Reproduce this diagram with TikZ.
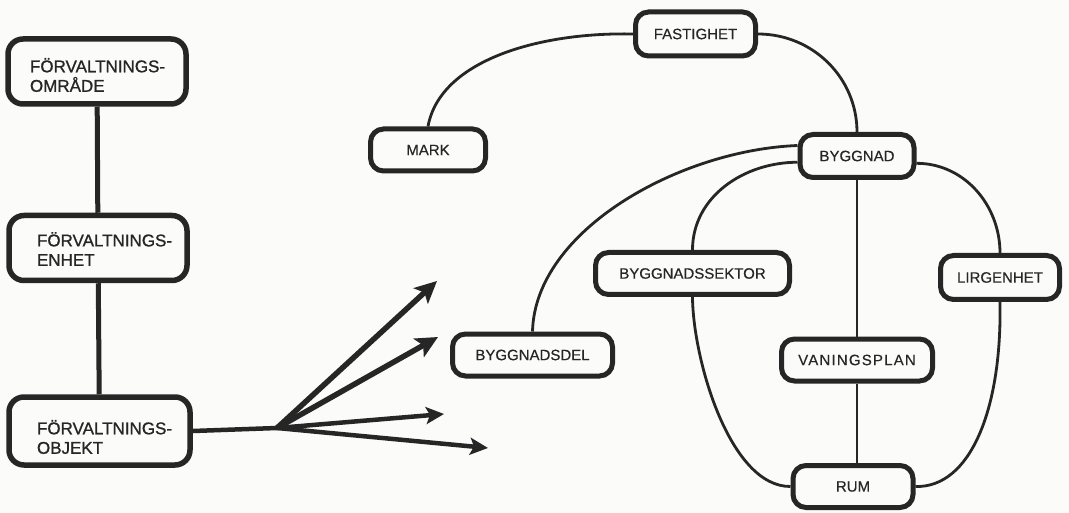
\documentclass[tikz,border=0pt]{standalone}
\usepackage{fontspec}
\setmainfont{Liberation Sans}
\usetikzlibrary{arrows.meta,calc}
\definecolor{ink}{RGB}{38,38,38}
\definecolor{paper}{RGB}{251,251,249}

\begin{document}
\begin{tikzpicture}[x=1pt,y=-1pt,
  adminbox/.style={draw=ink, line width=5.5pt, rounded corners=15pt,
    minimum width=178pt, minimum height=65pt, inner sep=0pt},
  admintext/.style={text width=140pt, inner sep=0pt, align=left, text=ink,
    font=\fontsize{17}{19.5}\selectfont\addfontfeature{FakeBold=1}},
  objbox/.style={draw=ink, line width=5pt, rounded corners=13pt,
    minimum height=42pt, inner sep=0pt, text=ink,
    font=\fontsize{15}{18}\selectfont\addfontfeature{FakeBold=0.4}},
  link/.style={draw=ink, line width=2.8pt},
  stem/.style={draw=ink, line width=5pt},
  bigarrow/.style={draw=ink, line width=5.5pt,
    -{Stealth[length=22pt,width=21pt,inset=5pt]}},
  smallarrow/.style={draw=ink, line width=4.5pt,
    -{Stealth[length=18pt,width=17pt,inset=4pt]}},
]
\fill[paper] (0,0) rectangle (1069,513);
\useasboundingbox (0,0) rectangle (1069,513);

% administrative hierarchy
\node[adminbox] (omr) at (97,71.5) {};
\node[adminbox] (enh) at (98,248) {};
\node[adminbox, minimum width=181pt, minimum height=68pt] (obj) at (99.5,431) {};
\node[admintext] (omrtext) at (100,75) {FÖRVALTNINGS-\\OMRÅDE};
\node[admintext] (enhtext) at (107,249) {FÖRVALTNINGS-\\ENHET};
\node[admintext] (objtext) at (107,437) {FÖRVALTNINGS-\\OBJEKT};

\draw[stem] (omr) -- (enh);
\draw[stem] (enh) -- (obj);

% fan of arrows
\coordinate (fan) at (277,428);
\coordinate (t1) at (437,281);
\coordinate (t2) at (438,337);
\coordinate (t3) at (444,414);
\coordinate (t4) at (488,448);
\draw[stem, line width=4.5pt] (obj.east) -- (fan);
\draw[bigarrow] (fan) -- (t1);
\draw[bigarrow] (fan) -- (t2);
\draw[smallarrow] (fan) -- (t3);
\draw[smallarrow] (fan) -- (t4);

% property objects
\node[objbox, minimum width=120pt, minimum height=44pt] (fast) at (695.5,34) {FASTIGHET};
\node[objbox, minimum width=115pt] (mark) at (428,150) {MARK};
\node[objbox, minimum width=114pt, minimum height=43pt] (bygg) at (857,156) {BYGGNAD};
\node[objbox, minimum width=194pt] (sekt) at (692.5,273.5) {BYGGNADSSEKTOR};
\node[objbox, minimum width=119pt, minimum height=44pt] (lag) at (1000,277.5) {LIRGENHET};
\node[objbox, minimum width=160pt] (del) at (532.5,355) {BYGGNADSDEL};
\node[objbox, minimum width=151pt] (van) at (857,360) {\addfontfeature{LetterSpace=8}VANINGSPLAN};
\node[objbox, minimum width=120pt] (rum) at (853,486.5) {RUM};

\draw[link] (fast.west) .. controls (540,32) and (440,60) .. (mark.north);
\draw[link] (fast.east) to[out=0,in=90] (bygg.north);
\draw[link] (bygg.170) .. controls (680,150) and (535,230) .. (del.north);
\draw[link] (bygg.186) to[out=180,in=90] (sekt.north);
\draw[link] (bygg.south) -- (bygg.south |- van.north);
\draw[link] (bygg.-7) to[out=0,in=90] (lag.north);
\draw[link] (sekt.south) .. controls (693,360) and (730,487) .. (rum.west);
\draw[link] (rum.north -| van.south) -- (van.south);
\draw[link] (lag.south) .. controls (1002,410) and (970,488) .. (rum.east);
\end{tikzpicture}
\end{document}
